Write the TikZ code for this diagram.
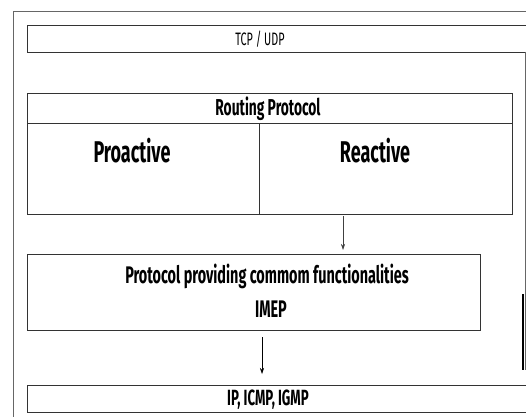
\documentclass[tikz,border=0pt]{standalone}
\usepackage{fontspec}
\setmainfont{Fira Sans}[FakeStretch=0.6]
\usetikzlibrary{arrows.meta}
\begin{document}
\begin{tikzpicture}[x=1pt,y=-1pt,
  frame/.style={draw=black!60,line width=0.8pt},
  box/.style={draw=black!80,line width=0.8pt},
  lbl/.style={inner sep=0pt,anchor=base},
  conn/.style={draw=black!75,line width=0.6pt,-{Stealth[length=6pt,width=4pt]}}]
\useasboundingbox (0,0) rectangle (526,417);
% outer frame (partly out of view)
\draw[frame] (526,11) -- (13,11) -- (13,417);
% TCP / UDP
\draw[box] (526,25) -- (27,25) -- (27,52) -- (526,52);
\node[lbl,font=\fontsize{18}{20}\selectfont] (tcp) at (260,46) {TCP / UDP};
\draw[frame] (525,52) -- (525,370);
\draw[line width=2.5pt] (523,294) -- (523,370);
% routing protocol
\draw[box] (27,93) rectangle (512,214);
\draw[box] (27,123) -- (512,123);
\draw[box] (259,123) -- (259,214);
\node[lbl,font=\fontsize{23}{26}\selectfont\bfseries] (rp) at (268,115) {Routing Protocol};
\node[lbl,font=\fontsize{30}{34}\selectfont\bfseries] (pro) at (132,162) {Proactive};
\node[lbl,font=\fontsize{30}{34}\selectfont\bfseries] (rea) at (375,162) {Reactive};
\coordinate (a1s) at (343,216);
\coordinate (a1e) at (343,250);
\draw[conn] (a1s) -- (a1e);
% IMEP
\draw[box] (27,254) rectangle (480,330);
\node[lbl,font=\fontsize{24}{28}\selectfont\bfseries] (imep1) at (267,283) {Protocol providing commom functionalities};
\node[lbl,font=\fontsize{24}{28}\selectfont\bfseries] (imep2) at (271,317) {IMEP};
\coordinate (a2s) at (262,337);
\coordinate (a2e) at (262,374);
\draw[conn,draw=black] (a2s) -- (a2e);
% IP
\draw[box] (526,385) -- (27,385) -- (27,412) -- (526,412);
\node[lbl,font=\fontsize{22}{24}\selectfont\bfseries] (ip) at (268,405) {IP, ICMP, IGMP};
\end{tikzpicture}
\end{document}
